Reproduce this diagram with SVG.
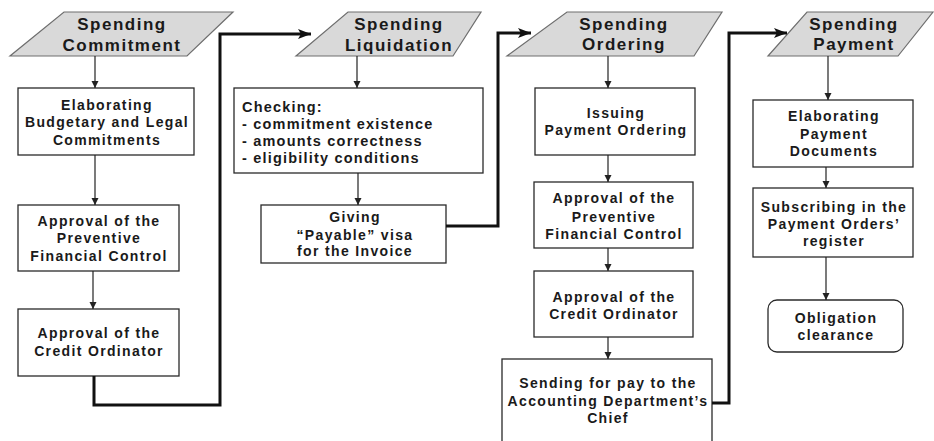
<svg xmlns="http://www.w3.org/2000/svg" width="934" height="441" viewBox="0 0 934 441">
  <style>
    .hdr { fill: #d9d9d9; stroke: #6e6e6e; stroke-width: 1.2; }
    .box { fill: #ffffff; stroke: #2a2a2a; stroke-width: 1.3; }
    .ht { font-family: "Liberation Sans", Arial, sans-serif; font-weight: bold; font-size: 17px; letter-spacing: 1.5px; fill: #1a1a1a; text-anchor: middle; }
    .bt { font-family: "Liberation Sans", Arial, sans-serif; font-weight: bold; font-size: 14px; letter-spacing: 1.35px; fill: #1a1a1a; text-anchor: middle; }
    .lt { font-family: "Liberation Sans", Arial, sans-serif; font-weight: bold; font-size: 14.5px; letter-spacing: 1.2px; fill: #1a1a1a; }
    .thin { fill: none; stroke: #222; stroke-width: 1.2; marker-end: url(#arr); }
    .thick { fill: none; stroke: #111; stroke-width: 3; marker-end: url(#arrBig); }
  </style>
  <defs>
    <marker id="arr" markerUnits="userSpaceOnUse" markerWidth="8" markerHeight="8" refX="7" refY="4" orient="auto">
      <path d="M0,0.5 L7,4 L0,7.5 z" fill="#222"/>
    </marker>
    <marker id="arrBig" markerUnits="userSpaceOnUse" markerWidth="14" markerHeight="12" refX="13" refY="6" orient="auto">
      <path d="M0,1 L13,6 L0,11 L3,6 z" fill="#111"/>
    </marker>
  </defs>

  <rect width="934" height="441" fill="#ffffff"/>

  <!-- column 1: commitment -->
  <g id="hdr-commitment">
    <polygon class="hdr" points="64,12 233,12 187,56 10,56"/>
    <text class="ht" x="122" y="30">Spending</text>
    <text class="ht" x="122" y="51">Commitment</text>
  </g>
  <g id="elaborating-commitments">
    <rect class="box" x="18" y="88" width="176" height="67"/>
    <text class="bt" x="107" y="110">Elaborating</text>
    <text class="bt" x="107" y="127">Budgetary and Legal</text>
    <text class="bt" x="107" y="145">Commitments</text>
  </g>
  <g id="approval-pfc-1">
    <rect class="box" x="18" y="205" width="161" height="66"/>
    <text class="bt" x="99" y="226">Approval of the</text>
    <text class="bt" x="99" y="243">Preventive</text>
    <text class="bt" x="99" y="261">Financial Control</text>
  </g>
  <g id="approval-co-1">
    <rect class="box" x="18" y="309" width="161" height="67"/>
    <text class="bt" x="99" y="338">Approval of the</text>
    <text class="bt" x="99" y="356">Credit Ordinator</text>
  </g>

  <!-- column 2: liquidation -->
  <g id="hdr-liquidation">
    <polygon class="hdr" points="348,12 481,12 453,56 296,56"/>
    <text class="ht" x="399" y="30">Spending</text>
    <text class="ht" x="399" y="51">Liquidation</text>
  </g>
  <g id="checking">
    <rect class="box" x="234" y="88" width="249" height="85"/>
    <text class="lt" x="242" y="112">Checking:</text>
    <text class="lt" x="242" y="129">- commitment existence</text>
    <text class="lt" x="242" y="146">- amounts correctness</text>
    <text class="lt" x="242" y="163">- eligibility conditions</text>
  </g>
  <g id="payable-visa">
    <rect class="box" x="261" y="205" width="185" height="58"/>
    <text class="bt" x="355" y="222">Giving</text>
    <text class="bt" x="355" y="240">“Payable” visa</text>
    <text class="bt" x="355" y="256">for the Invoice</text>
  </g>

  <!-- column 3: ordering -->
  <g id="hdr-ordering">
    <polygon class="hdr" points="567,12 722,12 694,56 507,56"/>
    <text class="ht" x="624" y="30">Spending</text>
    <text class="ht" x="624" y="50">Ordering</text>
  </g>
  <g id="issuing-ordering">
    <rect class="box" x="535" y="88" width="160" height="67"/>
    <text class="bt" x="616" y="118">Issuing</text>
    <text class="bt" x="616" y="135">Payment Ordering</text>
  </g>
  <g id="approval-pfc-3">
    <rect class="box" x="534" y="182" width="159" height="66"/>
    <text class="bt" x="614" y="203">Approval of the</text>
    <text class="bt" x="614" y="222">Preventive</text>
    <text class="bt" x="614" y="239">Financial Control</text>
  </g>
  <g id="approval-co-3">
    <rect class="box" x="534" y="271" width="159" height="66"/>
    <text class="bt" x="614" y="302">Approval of the</text>
    <text class="bt" x="614" y="319">Credit Ordinator</text>
  </g>
  <g id="sending-chief">
    <rect class="box" x="502" y="359" width="210" height="100"/>
    <text class="bt" x="608" y="388">Sending for pay to the</text>
    <text class="bt" x="608" y="406">Accounting Department’s</text>
    <text class="bt" x="608" y="423">Chief</text>
  </g>

  <!-- column 4: payment -->
  <g id="hdr-payment">
    <polygon class="hdr" points="807,12 933,12 898,56 768,56"/>
    <text class="ht" x="854" y="30">Spending</text>
    <text class="ht" x="854" y="50">Payment</text>
  </g>
  <g id="payment-documents">
    <rect class="box" x="753" y="100" width="160" height="67"/>
    <text class="bt" x="834" y="121">Elaborating</text>
    <text class="bt" x="834" y="139">Payment</text>
    <text class="bt" x="834" y="156">Documents</text>
  </g>
  <g id="register">
    <rect class="box" x="753" y="188" width="160" height="69"/>
    <text class="bt" x="834" y="212">Subscribing in the</text>
    <text class="bt" x="834" y="229">Payment Orders’</text>
    <text class="bt" x="834" y="246">register</text>
  </g>
  <g id="obligation-clearance">
    <rect class="box" x="768" y="300" width="135" height="52" rx="9" ry="9"/>
    <text class="bt" x="836" y="323">Obligation</text>
    <text class="bt" x="836" y="340">clearance</text>
  </g>

  <!-- connectors -->
  <g id="connectors">
    <path class="thin" d="M95,56 V88"/>
    <path class="thin" d="M95,155 V205"/>
    <path class="thin" d="M93,271 V309"/>
    <path class="thick" d="M94,376 V405 H220 V34 H311"/>

    <path class="thin" d="M357,56 V88"/>
    <path class="thin" d="M358,173 V205"/>
    <path class="thick" d="M446,226 H498 V33 H531"/>

    <path class="thin" d="M608,56 V88"/>
    <path class="thin" d="M608,155 V182"/>
    <path class="thin" d="M608,248 V271"/>
    <path class="thin" d="M608,337 V359"/>
    <path class="thick" d="M712,403 H729 V33 H787"/>

    <path class="thin" d="M828,56 V100"/>
    <path class="thin" d="M826,167 V188"/>
    <path class="thin" d="M826,257 V300"/>
  </g>
</svg>
